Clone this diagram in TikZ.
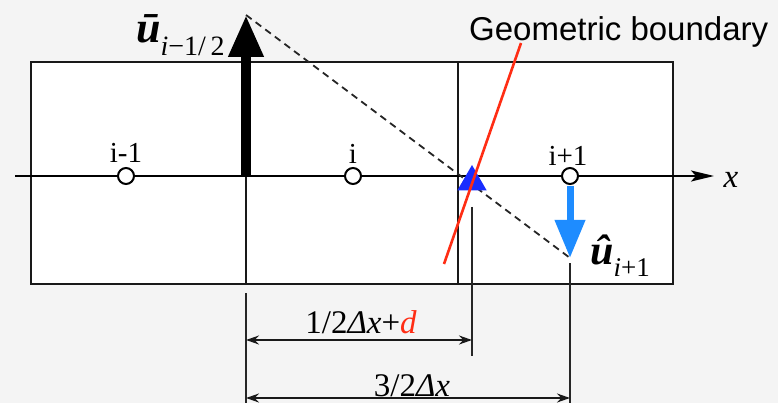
\documentclass[tikz,border=0pt]{standalone}
\usepackage{fontspec}
\setmainfont{Liberation Serif}
\newfontfamily\labelsans{Liberation Sans}
\usetikzlibrary{arrows.meta,shapes.geometric}
\definecolor{bggray}{RGB}{244,244,244}
\definecolor{flowblue}{RGB}{30,140,255}
\definecolor{bndred}{RGB}{255,45,20}
\definecolor{triblue}{RGB}{25,45,255}
\begin{document}
\begin{tikzpicture}[x=1pt,y=-1pt,
  gridline/.style={line width=2.3pt, draw=black!90},
  extline/.style={line width=2pt, draw=black!85},
  dimline/.style={line width=1.8pt, draw=black!90, {Stealth[length=13pt,width=9pt]}-{Stealth[length=13pt,width=9pt]}},
  cellpt/.style={circle, draw=black, line width=2pt, fill=white, minimum size=16pt, inner sep=0pt},
  lbl/.style={inner sep=0pt, font=\fontsize{29}{29}\selectfont},
  dimlbl/.style={inner sep=0pt, anchor=base, font=\fontsize{33}{33}\selectfont}
]
% canvas
\fill[bggray] (0,0) rectangle (778,403);
\useasboundingbox (0,0) rectangle (778,403);
% grid
\coordinate (gTL) at (31,62);
\coordinate (gBR) at (673,284);
\filldraw[fill=white, gridline] (gTL) rectangle (gBR);
\coordinate (v1t) at (246,62); \coordinate (v1b) at (246,284);
\coordinate (v2t) at (458,62); \coordinate (v2b) at (458,284);
\draw[gridline] (v1t) -- (v1b);
\draw[gridline] (v2t) -- (v2b);
% axis
\coordinate (axL) at (15,176);
\coordinate (axR) at (714,176);
\draw[line width=2.2pt, -{Stealth[length=23pt,width=11pt,inset=5pt]}] (axL) -- (axR);
\node[inner sep=0pt, font=\fontsize{33}{33}\selectfont\itshape] (xlab) at (731,180) {x};
% dashed interpolation line
\coordinate (utip) at (246,15);
\coordinate (ubase) at (246,176);
\coordinate (hatend) at (570,258);
\draw[dashed, line width=1.8pt, dash pattern=on 7pt off 5pt, draw=black!85] (utip) -- (hatend);
% blue triangle at the boundary
\node[regular polygon, regular polygon sides=3, fill=triblue, inner sep=0pt, outer sep=0pt, minimum size=34pt] (tri) at (472,182) {};
% geometric boundary
\coordinate (rb) at (444,264);
\coordinate (rt) at (521,43);
\draw[bndred, line width=2.6pt] (rb) -- (rt);
\node[anchor=base west, inner sep=0pt, font=\labelsans\fontsize{33}{33}\selectfont] (geo) at (469,41) {Geometric boundary};
% thick black arrow
\draw[line width=10pt, -{Triangle[width=33pt,length=42pt]}] (ubase) -- (utip);
% cell centres
\node[cellpt] (cA) at (126,176) {};
\node[cellpt] (cB) at (353,176) {};
\node[cellpt] (cC) at (570,176) {};
\node[lbl, anchor=base] (lA) at (126,163) {i-1};
\node[lbl, anchor=base] (lB) at (353,164) {i};
\node[lbl, anchor=base] (lC) at (568,166) {i+1};
% blue arrow
\coordinate (bstart) at (570,186);
\draw[flowblue, line width=7pt, -{Triangle[width=29pt,length=38pt]}] (bstart) -- (hatend);
% labels of velocities
\node[anchor=base west, inner sep=0pt] (ubarlab) at (136,43)
  {\fontsize{44}{44}\selectfont\bfseries\itshape ū\raisebox{-13pt}{\fontsize{28}{28}\selectfont\mdseries\itshape i\upshape −1/\,2}};
\node[anchor=base west, inner sep=0pt] (uhatlab) at (590,264)
  {\fontsize{42}{42}\selectfont\bfseries\itshape û\raisebox{-12pt}{\fontsize{27}{27}\selectfont\mdseries\itshape i\upshape +1}};
% dimension extension lines
\coordinate (eA1) at (246,293); \coordinate (eA2) at (246,403);
\coordinate (eB1) at (472,207); \coordinate (eB2) at (472,356);
\coordinate (eC1) at (570,263); \coordinate (eC2) at (570,403);
\draw[extline] (eA1) -- (eA2);
\draw[extline] (eB1) -- (eB2);
\draw[extline] (eC1) -- (eC2);
% dimension arrows
\coordinate (dA1) at (246,340); \coordinate (dA2) at (472,340);
\coordinate (dB1) at (246,398); \coordinate (dB2) at (570,398);
\draw[dimline] (dA1) -- (dA2);
\draw[dimline] (dB1) -- (dB2);
\node[dimlbl] (dimA) at (361,333) {1/2{\itshape Δx}+{\itshape\color{bndred}d}};
\node[dimlbl] (dimB) at (412,396) {3/2{\itshape Δx}};
\end{tikzpicture}
\end{document}
